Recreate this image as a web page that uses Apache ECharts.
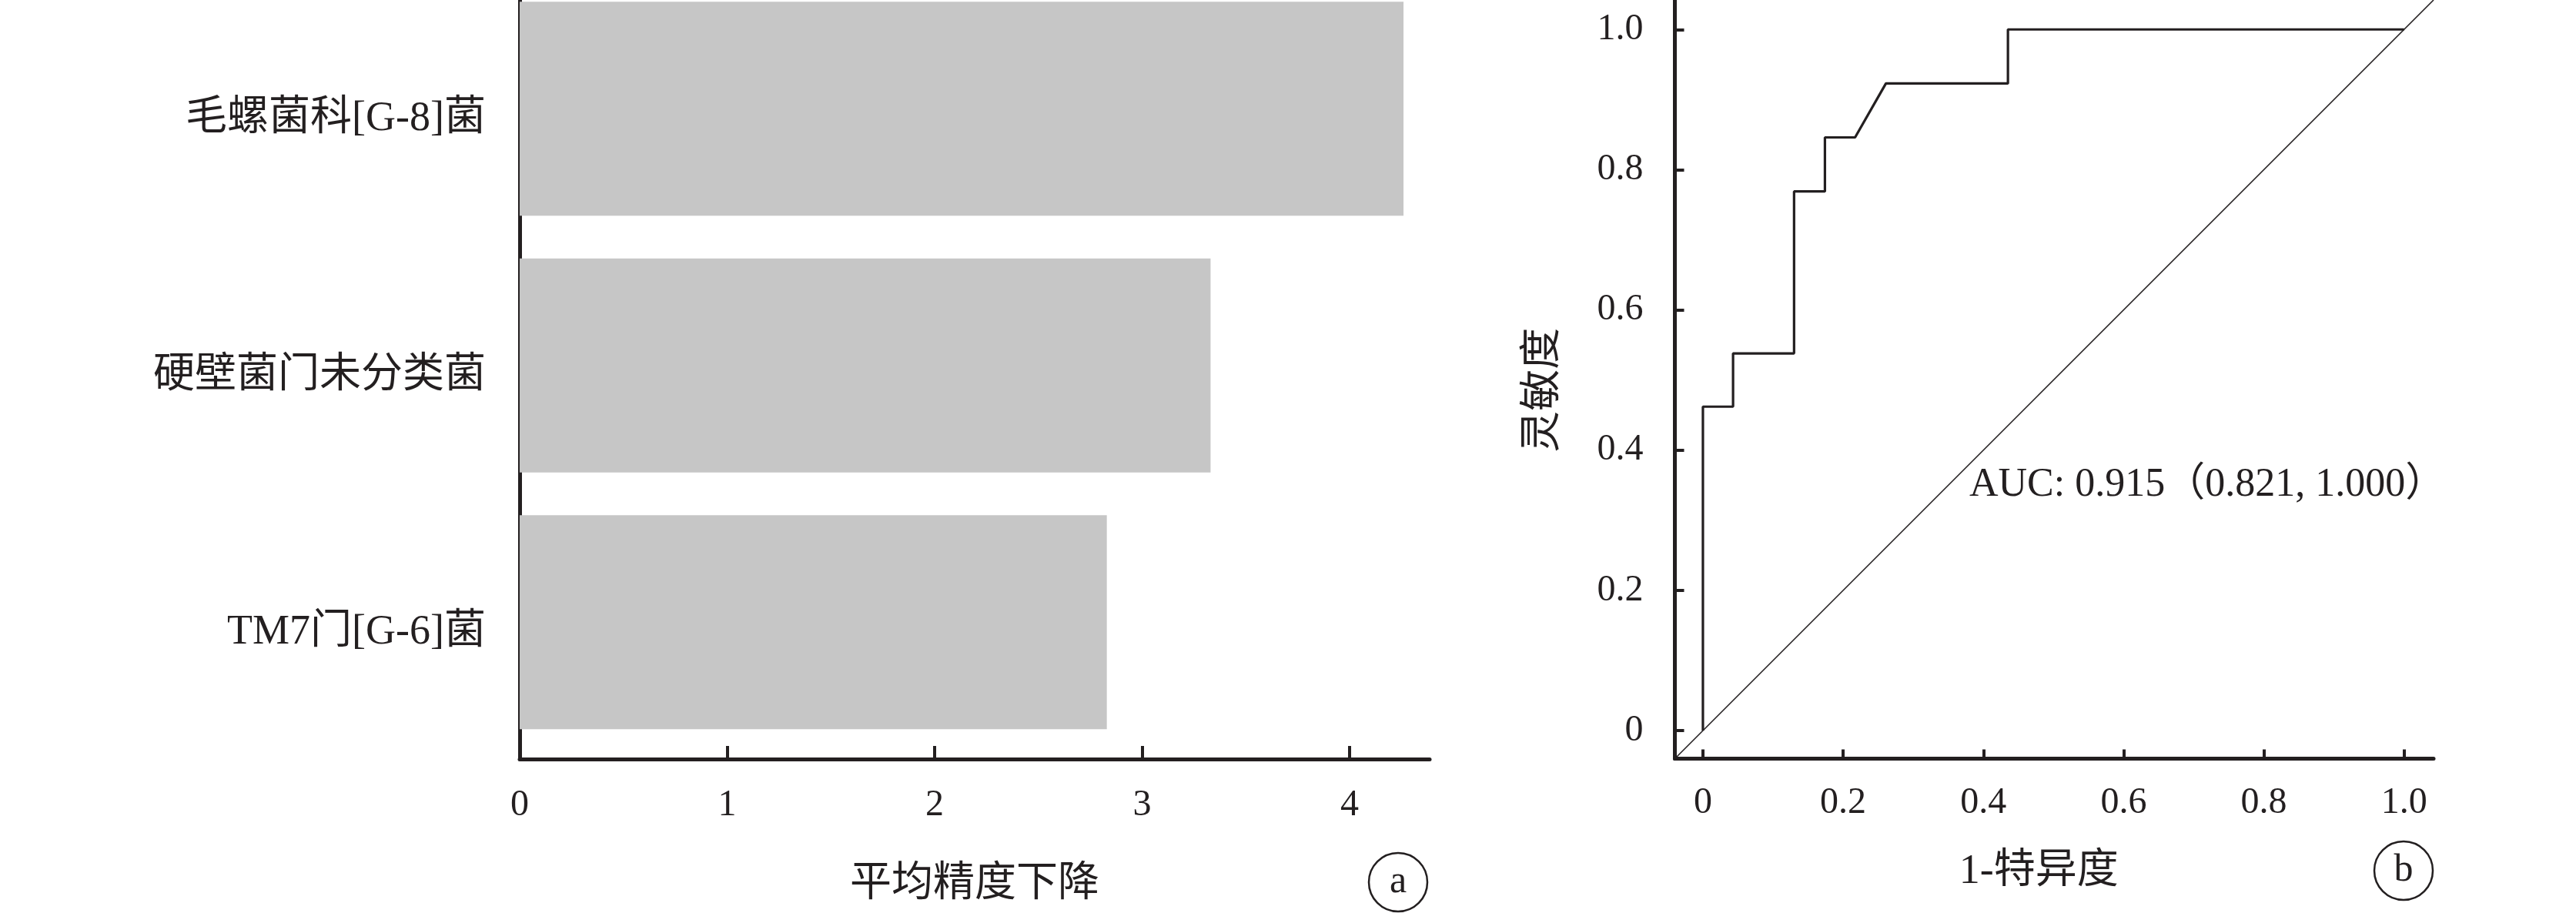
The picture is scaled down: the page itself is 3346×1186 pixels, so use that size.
<!DOCTYPE html>
<html>
<head>
<meta charset="utf-8">
<script src="https://cdn.jsdelivr.net/npm/echarts@6/dist/echarts.min.js"></script>
<style>
html,body{margin:0;padding:0;background:#fff;}
#chart{width:3346px;height:1186px;}
</style>
</head>
<body>
<div id="chart"></div>
<script>
// ---- data ----
const categories = ['毛螺菌科[G-8]菌', '硬壁菌门未分类菌', 'TM7门[G-6]菌'];
const meanDecrease = [4.26, 3.33, 2.83];
const barTicks = [0, 1, 2, 3, 4];

const rocFpr = [0, 0, 0.043, 0.043, 0.130, 0.130, 0.174, 0.174, 0.217, 0.261, 0.435, 0.435, 1.0];
const rocTpr = [0, 0.462, 0.462, 0.538, 0.538, 0.769, 0.769, 0.846, 0.846, 0.923, 0.923, 1.0, 1.0];
const refX = [-0.04, 1.042];
const refY = [-0.04, 1.042];
const rocTicks = [0, 0.2, 0.4, 0.6, 0.8, 1.0];
const aucText = 'AUC: 0.915（0.821, 1.000）';

// ---- styles ----
const FONT = "'Liberation Serif', 'Noto Sans CJK SC', serif";
const INK = '#231f20';

const chart = echarts.init(document.getElementById('chart'), null, {renderer: 'canvas'});

const rocData = rocFpr.map((x, i) => [x, rocTpr[i]]);
const refData = refX.map((x, i) => [x, refY[i]]);

const hidden = {show: false};

const option = {
  animation: false,
  backgroundColor: '#fff',
  textStyle: {fontFamily: FONT, color: INK},
  grid: [
    // bars
    {left: 675, top: -25.5, width: 1182, height: 1000.5, containLabel: false, outerBoundsMode: 'none'},
    // frame of left panel
    {left: 675, top: 0, width: 1182, height: 986, containLabel: false, outerBoundsMode: 'none'},
    // ROC panel
    {left: 2175.5, top: 0, width: 985.5, height: 985.5, containLabel: false, outerBoundsMode: 'none'}
  ],
  xAxis: [
    {gridIndex: 0, type: 'value', min: 0, max: 4.386, axisLine: hidden, axisTick: hidden, axisLabel: hidden, splitLine: hidden},
    {gridIndex: 1, type: 'value', min: 0, max: 4.386,
      name: '平均精度下降', nameLocation: 'middle', nameGap: 137,
      nameTextStyle: {fontFamily: FONT, fontSize: 54, color: INK},
      axisLine: {show: true, lineStyle: {color: INK, width: 5}},
      axisTick: {show: true, inside: true, length: 17, customValues: barTicks.slice(1), lineStyle: {color: INK, width: 4}},
      axisLabel: {show: true, customValues: barTicks, fontFamily: FONT, fontSize: 48, color: INK, margin: 36},
      splitLine: hidden},
    {gridIndex: 2, type: 'value', min: refX[0], max: refX[1],
      name: '1-特异度', nameLocation: 'middle', nameGap: 120,
      nameTextStyle: {fontFamily: FONT, fontSize: 54, color: INK, padding: [0, 40, 0, 0]},
      axisLine: {show: true, onZero: false, lineStyle: {color: INK, width: 5}},
      axisTick: {show: true, inside: true, length: 12, customValues: rocTicks, lineStyle: {color: INK, width: 4}},
      axisLabel: {show: true, customValues: rocTicks, fontFamily: FONT, fontSize: 48, color: INK, margin: 34,
        formatter: v => (Math.abs(v) < 1e-9 ? '0' : Number(v).toFixed(1))},
      splitLine: hidden}
  ],
  yAxis: [
    {gridIndex: 0, type: 'category', inverse: true, data: categories,
      axisLine: hidden, axisTick: hidden,
      axisLabel: {show: true, fontFamily: FONT, fontSize: 54, color: INK, margin: 44,
        verticalAlign: 'top', lineHeight: 28},
      splitLine: hidden},
    {gridIndex: 1, type: 'value', min: 0, max: 1,
      axisLine: {show: true, lineStyle: {color: INK, width: 5}},
      axisTick: hidden, axisLabel: hidden, splitLine: hidden},
    {gridIndex: 2, type: 'value', min: refY[0], max: refY[1],
      name: '灵敏度', nameLocation: 'middle', nameGap: 143,
      nameTextStyle: {fontFamily: FONT, fontSize: 54, color: INK, padding: [0, 28, 0, 0]},
      axisLine: {show: true, onZero: false, lineStyle: {color: INK, width: 5}},
      axisTick: {show: true, inside: true, length: 12, customValues: rocTicks, lineStyle: {color: INK, width: 4}},
      axisLabel: {show: true, customValues: rocTicks, fontFamily: FONT, fontSize: 48, color: INK, margin: 41,
        formatter: v => (Math.abs(v) < 1e-9 ? '0' : Number(v).toFixed(1))},
      splitLine: hidden}
  ],
  series: [
    {type: 'bar', xAxisIndex: 0, yAxisIndex: 0, data: meanDecrease, barWidth: 278,
      itemStyle: {color: '#c6c6c6'}, silent: true},
    {type: 'line', xAxisIndex: 2, yAxisIndex: 2, data: refData, symbol: 'none',
      lineStyle: {color: INK, width: 1.6}, silent: true},
    {type: 'line', xAxisIndex: 2, yAxisIndex: 2, data: rocData, symbol: 'none',
      lineStyle: {color: INK, width: 3.2}, silent: true}
  ],
  graphic: [
    {type: 'text', left: 2558, top: 632 - 28, style: {text: aucText, font: '52px ' + FONT, fill: INK}},
    {type: 'circle', shape: {cx: 1816, cy: 1146, r: 38}, style: {fill: 'none', stroke: INK, lineWidth: 2.5}},
    {type: 'text', x: 1816, y: 1146, style: {text: 'a', font: '50px ' + FONT, fill: INK, align: 'center', verticalAlign: 'middle'}},
    {type: 'circle', shape: {cx: 3122, cy: 1131, r: 38}, style: {fill: 'none', stroke: INK, lineWidth: 2.5}},
    {type: 'text', x: 3122, y: 1131, style: {text: 'b', font: '50px ' + FONT, fill: INK, align: 'center', verticalAlign: 'middle'}}
  ]
};

chart.setOption(option);
</script>
</body>
</html>
